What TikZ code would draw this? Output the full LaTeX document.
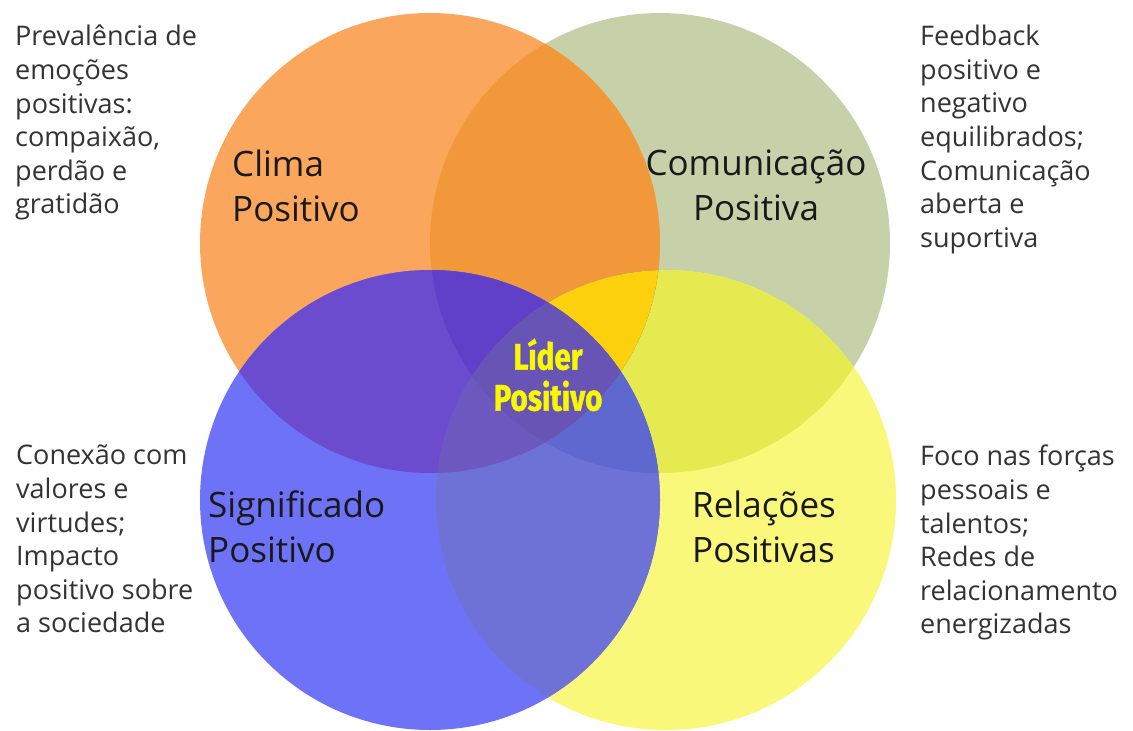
\documentclass[tikz,border=0pt]{standalone}
\usepackage{fontspec}
\setmainfont{Open Sans}
\newfontfamily\liderfont[FakeStretch=0.8,FakeBold=1.2]{Fira Sans}
\definecolor{colClima}{HTML}{FAA75D}
\definecolor{colComu}{HTML}{C6D1AA}
\definecolor{colSignif}{HTML}{6E72F6}
\definecolor{colRelac}{HTML}{FAF87A}
\definecolor{colCG}{HTML}{F0983A}
\definecolor{colCS}{HTML}{6C4CCE}
\definecolor{colMR}{HTML}{E4EA50}
\definecolor{colSR}{HTML}{6E72D6}
\definecolor{colCR}{HTML}{6C58BE}
\definecolor{colMS}{HTML}{5E68CE}
\definecolor{colCMR}{HTML}{FCD00C}
\definecolor{colCMS}{HTML}{6040C8}
\definecolor{colMSR}{HTML}{5E68CE}
\definecolor{colCSR}{HTML}{6C58BE}
\definecolor{colAll}{HTML}{6854B4}
\definecolor{txtGray}{HTML}{333333}
\definecolor{liderYellow}{HTML}{F8F800}
\begin{document}
\begin{tikzpicture}[x=1pt,y=-1pt,
    sidetext/.style={font=\fontsize{27}{33.6}\selectfont,text=txtGray,align=left,inner sep=0pt},
    circtext/.style={font=\fontsize{35}{45}\selectfont,text=black!90,inner sep=0pt},
    lidertext/.style={font=\liderfont\bfseries\fontsize{37}{41}\selectfont,text=liderYellow,align=center,inner sep=0pt}]
  \fill[white] (0,0) rectangle (1133,731);
  \useasboundingbox (0,0) rectangle (1133,731);
  \coordinate (clima) at (430,243);
  \coordinate (comu) at (660,243);
  \coordinate (signif) at (430,500);
  \coordinate (relac) at (666,500);
  \fill[colComu] (comu) circle[radius=230pt];
  \fill[colRelac] (relac) circle[radius=230pt];
  \fill[colClima] (clima) circle[radius=230pt];
  \fill[colSignif] (signif) circle[radius=230pt];
  \foreach \a/\b/\c in {clima/comu/colCG, clima/signif/colCS, comu/relac/colMR,
      signif/relac/colSR, clima/relac/colCR, comu/signif/colMS} {
    \begin{scope}
      \clip (\a) circle[radius=230pt];
      \fill[fill=\c] (\b) circle[radius=230pt];
    \end{scope}
  }
  \foreach \a/\b/\c/\d in {clima/comu/relac/colCMR, clima/comu/signif/colCMS,
      comu/signif/relac/colMSR, clima/signif/relac/colCSR} {
    \begin{scope}
      \clip (\a) circle[radius=230pt];
      \clip (\b) circle[radius=230pt];
      \fill[fill=\d] (\c) circle[radius=230pt];
    \end{scope}
  }
  \begin{scope}
    \clip (clima) circle[radius=230pt];
    \clip (comu) circle[radius=230pt];
    \clip (signif) circle[radius=230pt];
    \fill[colAll] (relac) circle[radius=230pt];
  \end{scope}

  \node[circtext,align=left,anchor=north west] (climaLbl) at (232,150) {Clima\\Positivo};
  \node[circtext,align=center,anchor=north] (comuLbl) at (756,150) {Comunicação\\Positiva};
  \node[circtext,align=left,anchor=north west] (signifLbl) at (208,491) {Significado\\Positivo};
  \node[circtext,align=left,anchor=north west] (relacLbl) at (692,491) {Relações\\Positivas};
  \node[lidertext] (lider) at (548,375) {Líder\\Positivo};

  \node[sidetext,anchor=north west] (climaTxt) at (15,25)
    {Prevalência de\\emoções\\positivas:\\compaixão,\\perdão e\\gratidão};
  \node[sidetext,anchor=north west] (comuTxt) at (920,25)
    {Feedback\\positivo e\\negativo\\equilibrados;\\Comunicação\\aberta e\\suportiva};
  \node[sidetext,anchor=north west] (signifTxt) at (16,445)
    {Conexão com\\valores e\\virtudes;\\Impacto\\positivo sobre\\a sociedade};
  \node[sidetext,anchor=north west] (relacTxt) at (920,445)
    {Foco nas forças\\pessoais e\\talentos;\\Redes de\\relacionamento\\energizadas};
\end{tikzpicture}
\end{document}
